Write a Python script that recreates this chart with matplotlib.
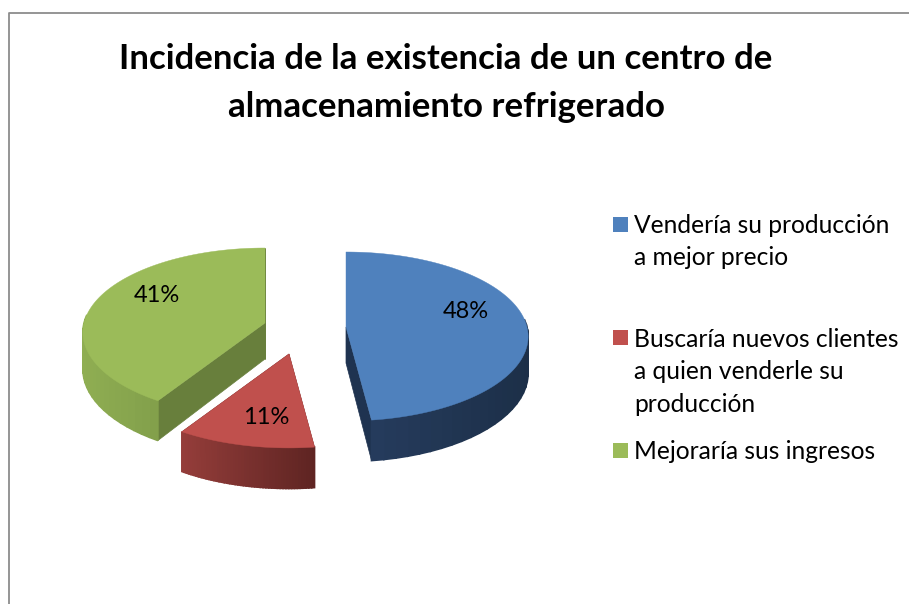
import numpy as np
import matplotlib
matplotlib.use("Agg")
import matplotlib.pyplot as plt
from matplotlib.colors import to_rgb

title = "Incidencia de la existencia de un centro de\nalmacenamiento refrigerado"
categorias = ["Vendería su producción\na mejor precio",
              "Buscaría nuevos clientes\na quien venderle su\nproducción",
              "Mejoraría sus ingresos"]
valores = [48, 11, 41]
colores = ["#4f81bd", "#c0504d", "#9bbb59"]
# colores del lado curvo (izquierda, derecha) y de los cortes
lado_izq = ["#273e60", "#943d3a", "#8fae52"]
lado_der = ["#1c2f48", "#5e2422", "#6f8a41"]
corte = ["#1f3350", "#7a302e", "#687f3c"]

# centro de cada rebanada ya separada, en pixeles
centros = [(346, 327), (289, 354), (265, 323)]
pos_etiqueta = [(466, 311), (266, 417), (157, 296)]
pos_leyenda = [(217, 225), (330, 339), (443, 451)]

A = 181  # semieje horizontal
B = 83.4  # semieje vertical
P = 0.112  # perspectiva
ALTO = 36  # grosor del pastel


def punto(c, t, r=1.0):
    # t en grados, en sentido horario desde arriba
    u = np.sin(np.radians(t)) * r
    v = np.cos(np.radians(t)) * r
    w = 1 + P * v
    return c[0] + A * u / w, c[1] - B * v / w, ALTO / w


def cara_corte(ax, c, t, color):
    a = punto(c, 0, 0)
    b = punto(c, t)
    ax.fill([a[0], b[0], b[0], a[0]],
            [a[1], b[1], b[1] + b[2], a[1] + a[2]],
            color=color, lw=0.5, zorder=2)


def dibujar_rebanada(ax, c, t0, t1, i):
    cara_corte(ax, c, t0, corte[i])
    cara_corte(ax, c, t1, corte[i])

    # lado curvo en tiras, para el degradado
    ts = np.linspace(t0, t1, 50)
    xs = [punto(c, t)[0] for t in ts]
    x0, x1 = min(xs), max(xs)
    izq, der = np.array(to_rgb(lado_izq[i])), np.array(to_rgb(lado_der[i]))
    for a, b in zip(ts[:-1], ts[1:]):
        if np.cos(np.radians((a + b) / 2)) > 0.1:
            continue  # la parte de atras no se ve
        pa, pb = punto(c, a), punto(c, b)
        f = ((pa[0] + pb[0]) / 2 - x0) / max(x1 - x0, 1)
        col = izq + (der - izq) * f
        ax.fill([pa[0], pb[0], pb[0], pa[0]],
                [pa[1], pb[1], pb[1] + pb[2], pa[1] + pa[2]],
                color=col, lw=1.2, zorder=3)

    # cara de arriba
    arco = [punto(c, t) for t in np.linspace(t0, t1, 120)]
    px = [c[0]] + [p[0] for p in arco]
    py = [c[1]] + [p[1] for p in arco]
    ax.fill(px, py, color=colores[i], lw=0.3, zorder=4)


fig = plt.figure(figsize=(9.09, 6.04), dpi=100)
ax = fig.add_axes([0, 0, 1, 1])
ax.set_xlim(0, 909)
ax.set_ylim(604, 0)
ax.axis("off")
plt.rcParams["font.family"] = ["Lato", "DejaVu Sans"]

# marco del grafico, solo arriba y a la izquierda
ax.plot([8.5, 8.5, 909], [604, 12.5, 12.5], color="#8c8c8c", lw=1.3, zorder=1)

inicio = 0
total = sum(valores)
for i, v in enumerate(valores):
    fin = inicio + v / total * 360
    dibujar_rebanada(ax, centros[i], inicio, fin, i)
    ax.text(pos_etiqueta[i][0], pos_etiqueta[i][1], f"{v}%", fontsize=17,
            color="black", ha="center", va="center", zorder=6)
    inicio = fin

ax.text(446, 83, title, fontsize=25.1, fontweight="bold", color="black",
        ha="center", va="center", linespacing=1.6)

for i, cat in enumerate(categorias):
    y_cuadro, y_texto = pos_leyenda[i]
    ax.fill([613, 628, 628, 613],
            [y_cuadro, y_cuadro, y_cuadro + 15, y_cuadro + 15],
            color=colores[i], lw=0)
    ax.text(634, y_texto - 11, cat, fontsize=17.7, color="black",
            ha="left", va="top", linespacing=1.49)

fig.savefig("out.png", dpi=100)
